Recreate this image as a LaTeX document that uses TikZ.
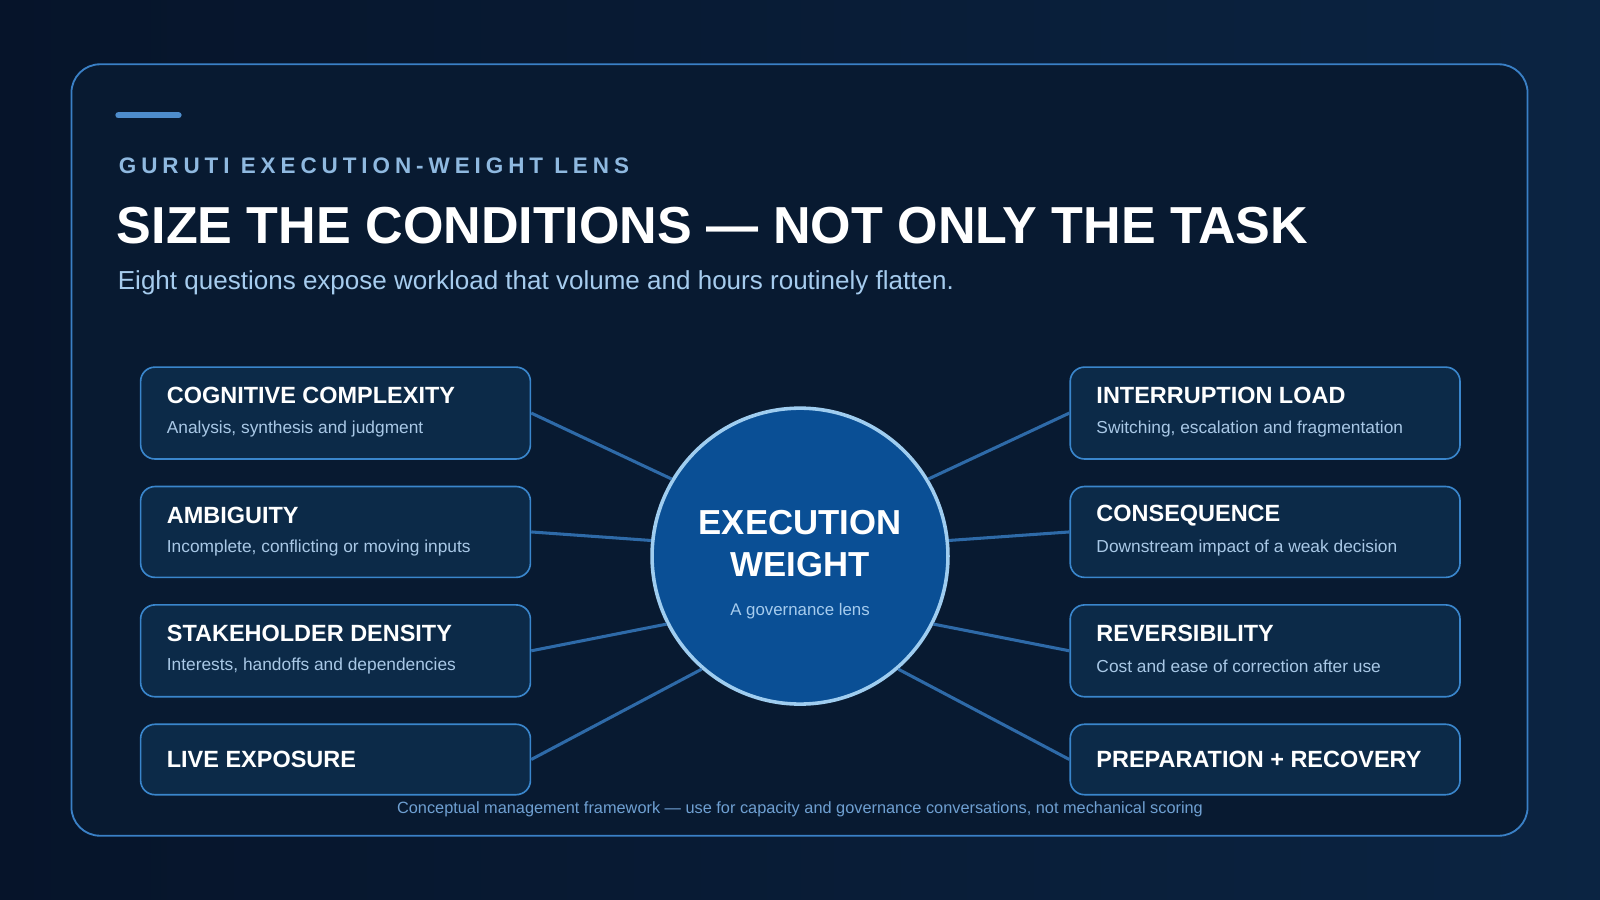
\documentclass[tikz,border=0pt]{standalone}
\usepackage{fontspec}
\setmainfont{Liberation Sans}
\usetikzlibrary{shapes.geometric}
\definecolor{bgA}{HTML}{06142A}
\definecolor{bgB}{HTML}{0B2442}
\definecolor{panel}{HTML}{081A31}
\definecolor{frame}{HTML}{3A80C6}
\definecolor{boxfill}{HTML}{0C2A48}
\definecolor{boxline}{HTML}{3A86CC}
\definecolor{conn}{HTML}{2E6AA8}
\definecolor{circfill}{HTML}{0A4F95}
\definecolor{circline}{HTML}{9FCDF0}
\definecolor{kicker}{HTML}{8FB9E0}
\definecolor{subt}{HTML}{A6CCEE}
\definecolor{boxsub}{HTML}{A9C8E6}
\definecolor{foot}{HTML}{6FA0D2}
\tikzset{
 card/.style={draw=boxline,line width=1.6pt,fill=boxfill,rounded corners=14pt,minimum width=382pt,anchor=north west,inner sep=0pt},
 conn/.style={draw=conn,line width=3pt},
 ct/.style={font=\bfseries\fontsize{23}{26}\selectfont,text=white,anchor=west},
 cs/.style={font=\fontsize{17}{20}\selectfont,text=boxsub,anchor=west}
}
\begin{document}
\begin{tikzpicture}[x=1pt,y=-1pt]
\useasboundingbox (0,0) rectangle (1568,882);
\shade[left color=bgA,right color=bgB] (0,0) rectangle (1568,882);
\draw[frame,line width=1.8pt,fill=panel,rounded corners=28pt] (70,63) rectangle (1497,819);
\draw[line width=6pt,color=frame!90!white,line cap=round] (116,113) -- (175,113);
\node[anchor=west,text=kicker,font=\bfseries\fontsize{22}{24}\selectfont\addfontfeature{LetterSpace=22}] (k) at (113,162) {GURUTI EXECUTION-WEIGHT LENS};
\node[anchor=west,text=white,font=\bfseries\fontsize{51}{56}\selectfont] (t) at (111,221) {SIZE THE CONDITIONS — NOT ONLY THE TASK};
\node[anchor=west,text=subt,font=\fontsize{25.5}{28}\selectfont] (s) at (112,277) {Eight questions expose workload that volume and hours routinely flatten.};
% cards
\node[card,minimum height=90pt] (l1) at (137,359) {};
\node[card,minimum height=89pt] (l2) at (137,476) {};
\node[card,minimum height=90pt] (l3) at (137,592) {};
\node[card,minimum height=69pt] (l4) at (137,709) {};
\node[card,minimum height=90pt] (r1) at (1048,359) {};
\node[card,minimum height=89pt] (r2) at (1048,476) {};
\node[card,minimum height=90pt] (r3) at (1048,592) {};
\node[card,minimum height=69pt] (r4) at (1048,709) {};
\node[ct] at (160,388) {COGNITIVE COMPLEXITY};
\node[cs] at (160,420) {Analysis, synthesis and judgment};
\node[ct] at (160,505) {AMBIGUITY};
\node[cs] at (160,537) {Incomplete, conflicting or moving inputs};
\node[ct] at (160,621) {STAKEHOLDER DENSITY};
\node[cs] at (160,653) {Interests, handoffs and dependencies};
\node[ct] at (160,744) {LIVE EXPOSURE};
\node[ct] at (1071,388) {INTERRUPTION LOAD};
\node[cs] at (1071,420) {Switching, escalation and fragmentation};
\node[ct] at (1071,505) {CONSEQUENCE};
\node[cs] at (1071,537) {Downstream impact of a weak decision};
\node[ct] at (1071,621) {REVERSIBILITY};
\node[cs] at (1071,653) {Cost and ease of correction after use};
\node[ct] at (1071,744) {PREPARATION + RECOVERY};
% circle
\node[circle,draw=circline,line width=3.5pt,fill=circfill,minimum size=290pt,inner sep=0pt] (c) at (784,545) {};
\node[text=white,font=\bfseries\fontsize{34}{41}\selectfont,align=center] at (784,533) {EXECUTION\\WEIGHT};
\node[text=subt,font=\fontsize{16.5}{19}\selectfont] at (784,599) {A governance lens};
% connectors
\draw[conn] (l1.east) -- (c.149);
\draw[conn] (l2.east) -- (c.174);
\draw[conn] (l3.east) -- (c.207);
\draw[conn] (l4.east) -- (c.229);
\draw[conn] (r1.west) -- (c.31);
\draw[conn] (r2.west) -- (c.6);
\draw[conn] (r3.west) -- (c.-27);
\draw[conn] (r4.west) -- (c.-49);
\node[text=foot,font=\fontsize{16}{18}\selectfont] (f) at (784,793) {Conceptual management framework — use for capacity and governance conversations, not mechanical scoring};
\end{tikzpicture}
\end{document}
